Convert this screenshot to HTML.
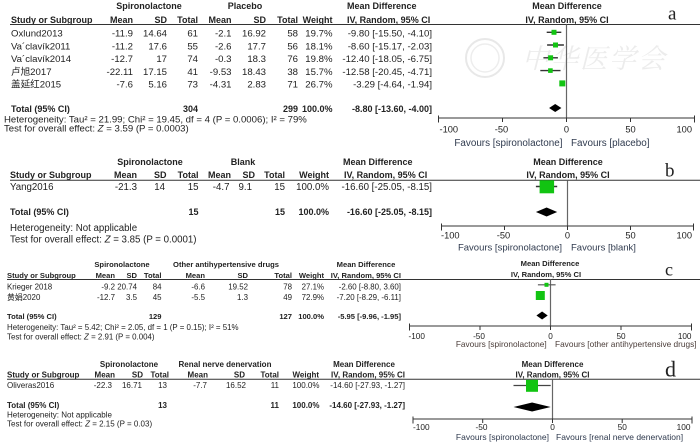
<!DOCTYPE html>
<html><head><meta charset="utf-8"><style>
html,body{margin:0;padding:0;background:#fff;}
svg{display:block;}
text{font-family:"Liberation Sans","Noto Sans CJK SC",sans-serif;fill:#222;}
.b{font-weight:bold;}
.e{text-anchor:end;}
.m{text-anchor:middle;}
.let{font-family:"Liberation Serif",serif;fill:#222;}
.pa text.b{font-size:9px;}
.pb text.b{font-size:9px;}
.pc text.b{font-size:7.6px;}
.pd text.b{font-size:8px;}
</style></head><body>
<svg width="700" height="445" viewBox="0 0 700 445" xmlns="http://www.w3.org/2000/svg">
<rect width="700" height="445" fill="#fff"/>

<!-- watermark -->
<g opacity="0.85">
<circle cx="485" cy="58" r="19" fill="none" stroke="#e4e4e4" stroke-width="2"/>
<circle cx="485" cy="58" r="14" fill="none" stroke="#ebebeb" stroke-width="1.5"/>
<text x="522" y="68" font-size="27" font-style="italic" style="fill:#e9e9e9;font-family:'Noto Serif CJK SC','Noto Sans CJK SC',serif" letter-spacing="2">中华医学会</text>
</g>

<!-- ================= PANEL A ================= -->
<g class="pa" font-size="9.6">
<text class="b m" x="149" y="9">Spironolactone</text>
<text class="b m" x="245" y="9">Placebo</text>
<text class="b" x="347" y="9">Mean Difference</text>
<text class="b m" x="567" y="9">Mean Difference</text>
<text class="b" x="11" y="22.8">Study or Subgroup</text>
<text class="b e" x="133" y="22.8">Mean</text>
<text class="b e" x="167" y="22.8">SD</text>
<text class="b e" x="198" y="22.8">Total</text>
<text class="b e" x="231.5" y="22.8">Mean</text>
<text class="b e" x="266" y="22.8">SD</text>
<text class="b e" x="298" y="22.8">Total</text>
<text class="b e" x="332.5" y="22.8">Weight</text>
<text class="b" x="347" y="22.8">IV, Random, 95% CI</text>
<text class="b m" x="567" y="22.8">IV, Random, 95% CI</text>

<text x="11" y="36.6">Oxlund2013</text>
<text class="e" x="133" y="36.6">-11.9</text><text class="e" x="167" y="36.6">14.64</text><text class="e" x="198" y="36.6">61</text>
<text class="e" x="231.5" y="36.6">-2.1</text><text class="e" x="266" y="36.6">16.92</text><text class="e" x="298" y="36.6">58</text>
<text class="e" x="332.5" y="36.6">19.7%</text><text class="e" x="432" y="36.6">-9.80 [-15.50, -4.10]</text>

<text x="11" y="49.3">Va´clavík2011</text>
<text class="e" x="133" y="49.3">-11.2</text><text class="e" x="167" y="49.3">17.6</text><text class="e" x="198" y="49.3">55</text>
<text class="e" x="231.5" y="49.3">-2.6</text><text class="e" x="266" y="49.3">17.7</text><text class="e" x="298" y="49.3">56</text>
<text class="e" x="332.5" y="49.3">18.1%</text><text class="e" x="432" y="49.3">-8.60 [-15.17, -2.03]</text>

<text x="11" y="62.1">Va´clavík2014</text>
<text class="e" x="133" y="62.1">-12.7</text><text class="e" x="167" y="62.1">17</text><text class="e" x="198" y="62.1">74</text>
<text class="e" x="231.5" y="62.1">-0.3</text><text class="e" x="266" y="62.1">18.3</text><text class="e" x="298" y="62.1">76</text>
<text class="e" x="332.5" y="62.1">19.8%</text><text class="e" x="432" y="62.1">-12.40 [-18.05, -6.75]</text>

<text x="11" y="74.9">卢旭2017</text>
<text class="e" x="133" y="74.9">-22.11</text><text class="e" x="167" y="74.9">17.15</text><text class="e" x="198" y="74.9">41</text>
<text class="e" x="231.5" y="74.9">-9.53</text><text class="e" x="266" y="74.9">18.43</text><text class="e" x="298" y="74.9">38</text>
<text class="e" x="332.5" y="74.9">15.7%</text><text class="e" x="432" y="74.9">-12.58 [-20.45, -4.71]</text>

<text x="11" y="87.7">盖延红2015</text>
<text class="e" x="133" y="87.7">-7.6</text><text class="e" x="167" y="87.7">5.16</text><text class="e" x="198" y="87.7">73</text>
<text class="e" x="231.5" y="87.7">-4.31</text><text class="e" x="266" y="87.7">2.83</text><text class="e" x="298" y="87.7">71</text>
<text class="e" x="332.5" y="87.7">26.7%</text><text class="e" x="432" y="87.7">-3.29 [-4.64, -1.94]</text>

<text class="b" x="11" y="112">Total (95% CI)</text>
<text class="b e" x="198" y="112">304</text><text class="b e" x="298" y="112">299</text>
<text class="b e" x="332.5" y="112">100.0%</text><text class="b e" x="432" y="112">-8.80 [-13.60, -4.00]</text>
<text x="4" y="122.3">Heterogeneity: Tau² = 21.99; Chi² = 19.45, df = 4 (P = 0.0006); I² = 79%</text>
<text x="4" y="131.6">Test for overall effect: <tspan font-style="italic">Z</tspan> = 3.59 (P = 0.0003)</text>
</g>
<line x1="10" y1="24.5" x2="700" y2="24.5" stroke="#333" stroke-width="1"/>
<line x1="566.5" y1="24.5" x2="566.5" y2="118" stroke="#666" stroke-width="1.2"/>
<!-- axis a -->
<g stroke="#333" stroke-width="1">
<line x1="438.5" y1="118" x2="694.5" y2="118"/>
<line x1="438.5" y1="115.5" x2="438.5" y2="122.5"/>
<line x1="502.5" y1="118" x2="502.5" y2="122"/>
<line x1="566.5" y1="118" x2="566.5" y2="122"/>
<line x1="630.5" y1="118" x2="630.5" y2="122"/>
<line x1="694.5" y1="115.5" x2="694.5" y2="122.5"/>
</g>
<g font-size="9.3">
<text x="439.5" y="132.5">-100</text>
<text class="m" x="501.5" y="132.5">-50</text>
<text class="m" x="566.5" y="132.5">0</text>
<text class="m" x="630.5" y="132.5">50</text>
<text class="e" x="692" y="132.5">100</text>
</g>
<g font-size="9.9">
<text class="e" x="562.5" y="146" style="fill:#2f3a4e">Favours [spironolactone]</text>
<text x="571" y="146" style="fill:#2f3a4e">Favours [placebo]</text>
</g>
<!-- markers a -->
<g stroke="#333" stroke-width="1.4">
<line x1="546.7" y1="32.3" x2="561.3" y2="32.3"/>
<line x1="547.1" y1="45" x2="563.9" y2="45"/>
<line x1="543.4" y1="57.8" x2="557.9" y2="57.8"/>
<line x1="540.3" y1="70.6" x2="560.5" y2="70.6"/>
<line x1="560.6" y1="83.4" x2="564" y2="83.4"/>
</g>
<g fill="#12c412">
<rect x="551.5" y="29.8" width="5" height="5"/>
<rect x="553" y="42.5" width="5" height="5"/>
<rect x="548.1" y="55.3" width="5" height="5"/>
<rect x="548.1" y="68.3" width="4.6" height="4.6"/>
<rect x="559.3" y="80.4" width="6" height="6"/>
</g>
<polygon points="549.1,108 555.2,104 561.4,108 555.2,112" fill="#000"/>
<text class="let" x="668" y="19.5" font-size="19">a</text>

<!-- ================= PANEL B ================= -->
<g class="pb" font-size="9.7">
<text class="b m" x="150" y="164.9">Spironolactone</text>
<text class="b m" x="243" y="164.9">Blank</text>
<text class="b" x="343" y="164.9">Mean Difference</text>
<text class="b m" x="568" y="164.9">Mean Difference</text>
<text class="b" x="10" y="178">Study or Subgroup</text>
<text class="b e" x="137" y="178">Mean</text>
<text class="b e" x="166.5" y="178">SD</text>
<text class="b e" x="198.5" y="178">Total</text>
<text class="b e" x="231" y="178">Mean</text>
<text class="b e" x="255" y="178">SD</text>
<text class="b e" x="285" y="178">Total</text>
<text class="b e" x="329" y="178">Weight</text>
<text class="b" x="344" y="178">IV, Random, 95% CI</text>
<text class="b m" x="568" y="178">IV, Random, 95% CI</text>

<text x="10" y="190.2">Yang2016</text>
<text class="e" x="137" y="190.2">-21.3</text><text class="e" x="165" y="190.2">14</text><text class="e" x="198.5" y="190.2">15</text>
<text class="e" x="229.5" y="190.2">-4.7</text><text class="e" x="252" y="190.2">9.1</text><text class="e" x="285" y="190.2">15</text>
<text class="e" x="329" y="190.2">100.0%</text><text class="e" x="432" y="190.2">-16.60 [-25.05, -8.15]</text>

<text class="b" x="10" y="215">Total (95% CI)</text>
<text class="b e" x="198.5" y="215">15</text><text class="b e" x="285" y="215">15</text>
<text class="b e" x="329" y="215">100.0%</text><text class="b e" x="432" y="215">-16.60 [-25.05, -8.15]</text>
<text x="10" y="231.2">Heterogeneity: Not applicable</text>
<text x="10" y="242.5">Test for overall effect: <tspan font-style="italic">Z</tspan> = 3.85 (P = 0.0001)</text>
</g>
<line x1="10" y1="180.3" x2="700" y2="180.3" stroke="#333" stroke-width="1"/>
<line x1="567.5" y1="180.3" x2="567.5" y2="226" stroke="#666" stroke-width="1.2"/>
<g stroke="#333" stroke-width="1">
<line x1="441.5" y1="226" x2="693.5" y2="226"/>
<line x1="441.5" y1="223.5" x2="441.5" y2="230.5"/>
<line x1="504.5" y1="226" x2="504.5" y2="230"/>
<line x1="567.5" y1="226" x2="567.5" y2="230"/>
<line x1="630.5" y1="226" x2="630.5" y2="230"/>
<line x1="693.5" y1="223.5" x2="693.5" y2="230.5"/>
</g>
<g font-size="9.3">
<text x="441" y="238.3">-100</text>
<text class="m" x="503.5" y="238.3">-50</text>
<text class="m" x="567.5" y="238.3">0</text>
<text class="m" x="630.5" y="238.3">50</text>
<text class="e" x="692" y="238.3">100</text>
</g>
<g font-size="9.5">
<text class="e" x="562" y="250.5" style="fill:#2f3a4e">Favours [spironolactone]</text>
<text x="571" y="250.5" style="fill:#2f3a4e">Favours [blank]</text>
</g>
<line x1="535.9" y1="186.5" x2="557.2" y2="186.5" stroke="#333" stroke-width="1.4"/>
<rect x="539.6" y="180.3" width="14.5" height="13" fill="#12c412"/>
<polygon points="535.9,212 546.6,207.5 557.2,212 546.6,216.5" fill="#000"/>
<text class="let" x="665" y="176.7" font-size="19">b</text>

<!-- ================= PANEL C ================= -->
<g class="pc" font-size="7.9">
<text class="b m" x="122" y="266.8">Spironolactone</text>
<text class="b m" x="226" y="266.8">Other antihypertensive drugs</text>
<text class="b m" x="366" y="266.8">Mean Difference</text>
<text class="b m" x="550" y="266">Mean Difference</text>
<text class="b" x="7" y="277.8">Study or Subgroup</text>
<text class="b e" x="115" y="277.8">Mean</text>
<text class="b e" x="137" y="277.8">SD</text>
<text class="b e" x="161.5" y="277.8">Total</text>
<text class="b e" x="205" y="277.8">Mean</text>
<text class="b e" x="248" y="277.8">SD</text>
<text class="b e" x="292" y="277.8">Total</text>
<text class="b e" x="324" y="277.8">Weight</text>
<text class="b e" x="401" y="277.8">IV, Random, 95% CI</text>
<text class="b m" x="546" y="277">IV, Random, 95% CI</text>

<text x="7" y="289.6">Krieger 2018</text>
<text class="e" x="115" y="289.6">-9.2</text><text class="e" x="137" y="289.6">20.74</text><text class="e" x="161.5" y="289.6">84</text>
<text class="e" x="205" y="289.6">-6.6</text><text class="e" x="248" y="289.6">19.52</text><text class="e" x="292" y="289.6">78</text>
<text class="e" x="324" y="289.6">27.1%</text><text class="e" x="401" y="289.6">-2.60 [-8.80, 3.60]</text>

<text x="7" y="300.2">黄娟2020</text>
<text class="e" x="115" y="300.2">-12.7</text><text class="e" x="137" y="300.2">3.5</text><text class="e" x="161.5" y="300.2">45</text>
<text class="e" x="205" y="300.2">-5.5</text><text class="e" x="248" y="300.2">1.3</text><text class="e" x="292" y="300.2">49</text>
<text class="e" x="324" y="300.2">72.9%</text><text class="e" x="401" y="300.2">-7.20 [-8.29, -6.11]</text>

<text class="b" x="7" y="318.8">Total (95% CI)</text>
<text class="b e" x="161.5" y="318.8">129</text><text class="b e" x="292" y="318.8">127</text>
<text class="b e" x="324" y="318.8">100.0%</text><text class="b e" x="401" y="318.8">-5.95 [-9.96, -1.95]</text>
<text x="7" y="329.8">Heterogeneity: Tau² = 5.42; Chi² = 2.05, df = 1 (P = 0.15); I² = 51%</text>
<text x="7" y="339.4">Test for overall effect: <tspan font-style="italic">Z</tspan> = 2.91 (P = 0.004)</text>
</g>
<line x1="7" y1="279.5" x2="700" y2="279.5" stroke="#333" stroke-width="1"/>
<line x1="550.5" y1="279.5" x2="550.5" y2="326" stroke="#666" stroke-width="1.2"/>
<g stroke="#333" stroke-width="1">
<line x1="409.5" y1="326" x2="691.5" y2="326"/>
<line x1="409.5" y1="323.5" x2="409.5" y2="330.5"/>
<line x1="480" y1="326" x2="480" y2="330"/>
<line x1="550.5" y1="326" x2="550.5" y2="330"/>
<line x1="621" y1="326" x2="621" y2="330"/>
<line x1="691.5" y1="323.5" x2="691.5" y2="330.5"/>
</g>
<g font-size="8.2">
<text x="408.5" y="338.8">-100</text>
<text class="m" x="479" y="338.8">-50</text>
<text class="m" x="550.5" y="338.8">0</text>
<text class="m" x="621" y="338.8">50</text>
<text class="e" x="691.5" y="338.8">100</text>
</g>
<g font-size="8.3">
<text class="e" x="546.7" y="347" style="fill:#4a3c38">Favours [spironolactone]</text>
<text x="555" y="347" style="fill:#4a3c38">Favours [other antihypertensive drugs]</text>
</g>
<line x1="537.9" y1="284.8" x2="555.6" y2="284.8" stroke="#555" stroke-width="1.2"/>
<rect x="544.5" y="282.8" width="4" height="4" fill="#12c412"/>
<line x1="538.8" y1="295.5" x2="541.9" y2="295.5" stroke="#333" stroke-width="1.2"/>
<rect x="535.8" y="291" width="9" height="9" fill="#12c412"/>
<polygon points="536.4,315.5 542.1,311.5 547.7,315.5 542.1,319.5" fill="#000"/>
<text class="let" x="665" y="275.7" font-size="18">c</text>

<!-- ================= PANEL D ================= -->
<g class="pd" font-size="8">
<text class="b m" x="129" y="367.2">Spironolactone</text>
<text class="b m" x="225" y="367.2">Renal nerve denervation</text>
<text class="b m" x="364" y="367.2">Mean Difference</text>
<text class="b m" x="552.5" y="367.2">Mean Difference</text>
<text class="b" x="7" y="377.6">Study or Subgroup</text>
<text class="b e" x="115" y="377.6">Mean</text>
<text class="b e" x="143" y="377.6">SD</text>
<text class="b e" x="169" y="377.6">Total</text>
<text class="b e" x="208" y="377.6">Mean</text>
<text class="b e" x="245" y="377.6">SD</text>
<text class="b e" x="279" y="377.6">Total</text>
<text class="b e" x="319" y="377.6">Weight</text>
<text class="b e" x="405" y="377.6">IV, Random, 95% CI</text>
<text class="b m" x="552.5" y="377.6">IV, Random, 95% CI</text>

<text x="7" y="388">Oliveras2016</text>
<text class="e" x="112" y="388">-22.3</text><text class="e" x="142" y="388">16.71</text><text class="e" x="167" y="388">13</text>
<text class="e" x="207" y="388">-7.7</text><text class="e" x="246" y="388">16.52</text><text class="e" x="279" y="388">11</text>
<text class="e" x="319.5" y="388">100.0%</text><text class="e" x="405" y="388">-14.60 [-27.93, -1.27]</text>

<text class="b" x="7" y="408">Total (95% CI)</text>
<text class="b e" x="167" y="408">13</text><text class="b e" x="279" y="408">11</text>
<text class="b e" x="319.5" y="408">100.0%</text><text class="b e" x="405" y="408">-14.60 [-27.93, -1.27]</text>
<text x="7" y="417.4">Heterogeneity: Not applicable</text>
<text x="7" y="426.4">Test for overall effect: <tspan font-style="italic">Z</tspan> = 2.15 (P = 0.03)</text>
</g>
<line x1="7" y1="379.3" x2="700" y2="379.3" stroke="#333" stroke-width="1"/>
<line x1="552.5" y1="379.3" x2="552.5" y2="419" stroke="#666" stroke-width="1.2"/>
<g stroke="#333" stroke-width="1">
<line x1="413" y1="419" x2="692" y2="419"/>
<line x1="413" y1="416.5" x2="413" y2="423.5"/>
<line x1="482.7" y1="419" x2="482.7" y2="423"/>
<line x1="552.5" y1="419" x2="552.5" y2="423"/>
<line x1="622.2" y1="419" x2="622.2" y2="423"/>
<line x1="692" y1="416.5" x2="692" y2="423.5"/>
</g>
<g font-size="8.3">
<text x="413" y="429.8">-100</text>
<text class="m" x="481.5" y="429.8">-50</text>
<text class="m" x="552.5" y="429.8">0</text>
<text class="m" x="622.2" y="429.8">50</text>
<text class="e" x="690.5" y="429.8">100</text>
</g>
<g font-size="8.5">
<text class="e" x="549" y="440" style="fill:#2f3a4e">Favours [spironolactone]</text>
<text x="556" y="440" style="fill:#2f3a4e">Favours [renal nerve denervation]</text>
</g>
<line x1="513.5" y1="385.5" x2="550.7" y2="385.5" stroke="#444" stroke-width="1.2"/>
<rect x="526" y="379.8" width="12" height="12" fill="#12c412"/>
<polygon points="513.5,407 532.1,402.5 550.7,407 532.1,411.5" fill="#000"/>
<text class="let" x="665" y="376.7" font-size="22">d</text>
</svg>
</body></html>
